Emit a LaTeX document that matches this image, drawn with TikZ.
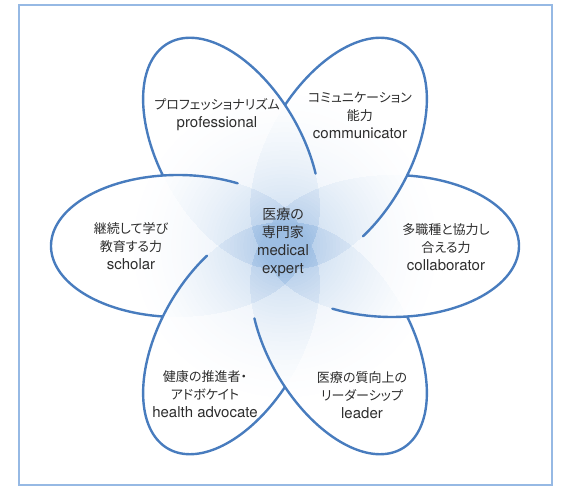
\documentclass[tikz,border=0pt]{standalone}
\usepackage{fontspec}
\setmainfont{TeX Gyre Heros}
\newfontfamily\jpfont[RawFeature=+palt]{Noto Sans CJK JP}
\newcommand\jtxt[1]{{\jpfont\fontsize{13}{18}\selectfont #1}}
\newcommand\jbig[1]{{\jpfont\fontsize{14}{18}\selectfont #1}}
\definecolor{petalline}{RGB}{72,124,190}
\definecolor{petalfill}{RGB}{60,125,200}
\definecolor{frameblue}{RGB}{150,185,228}
\definecolor{txt}{RGB}{45,45,45}
\begin{document}
\begin{tikzpicture}[x=1pt,y=1pt,
  petal/.style={draw=petalline, line width=2.4pt, line cap=round},
  lbl/.style={align=center, text=txt, font=\fontsize{15}{18}\selectfont, inner sep=0pt},
]
\useasboundingbox (-285,-243) rectangle (278,246);
% frame
\draw[frameblue, line width=1.3pt] (-266,-239) rectangle (267,241);
% petal fills (fading from the centre)
\foreach \a in {0,60,...,300} {
  \begin{scope}[rotate=\a]
    \clip plot[domain=0:360, samples=120] ({107+127*cos(\x)},{71*sin(\x)}) -- cycle;
    \foreach \k in {1,...,40} {
      \pgfmathsetmacro\rr{165*(1-(\k/40)^(2/3))+0.5}
      \fill[petalfill, fill opacity=0.0045] (0,0) circle (\rr pt);
    }
  \end{scope}
}
% petal outlines
\foreach \a in {0,60,...,300} {
  \begin{scope}[rotate=\a]
    \draw[petal] plot[domain=-118:83, samples=90, smooth] ({107+127*cos(\x)},{71*sin(\x)});
  \end{scope}
}
% labels
\node[lbl] (prof) at (-68,131) {\jtxt{プロフェッショナリズム}\\professional};
\node[lbl] (comm) at (75,131) {\jtxt{コミュニケーション}\\\jtxt{能力}\\communicator};
\node[lbl] (schol) at (-154,0) {\jtxt{継続して学び}\\\jtxt{教育する力}\\scholar};
\node[lbl] (collab) at (161,-1) {\jtxt{多職種と協力し}\\\jtxt{合える力}\\collaborator};
\node[lbl] (med) at (-2,4) {\jbig{医療の}\\\jbig{専門家}\\medical\\expert};
\node[lbl] (health) at (-80,-148) {\jtxt{健康の推進者・}\\\jtxt{アドボケイト}\\health advocate};
\node[lbl] (lead) at (77,-149) {\jtxt{医療の質向上の}\\\jtxt{リーダーシップ}\\leader};
\end{tikzpicture}
\end{document}
